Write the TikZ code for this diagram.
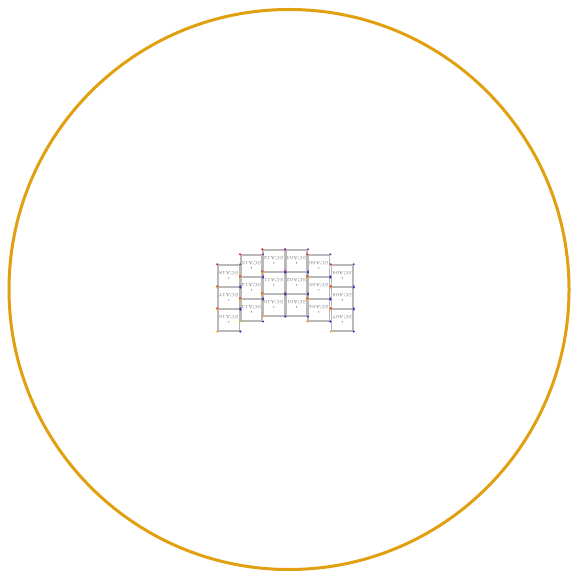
\documentclass[tikz,border=0pt]{standalone}
\usepackage{tikz}
\definecolor{ring}{RGB}{224,160,15}
\definecolor{edge}{RGB}{185,185,185}
\definecolor{dotred}{RGB}{214,39,40}
\definecolor{dotblue}{RGB}{40,50,200}
\definecolor{dotorange}{RGB}{240,165,30}
\definecolor{dotpurple}{RGB}{140,60,170}
\tikzset{
  scabox/.style={draw=edge, line width=0.85pt, minimum width=10.65pt,
    minimum height=10.75pt, inner sep=0pt, anchor=north west},
  scalabel/.style={font=\fontsize{2.4}{2.4}\selectfont, text=black!55,
    rotate=180, inner sep=0pt},
  scamark/.style={circle, fill=black!50, inner sep=0pt, minimum size=0.7pt},
}

\begin{document}
\begin{tikzpicture}[x=0.5pt, y=-0.5pt]
      \useasboundingbox (0,0) rectangle (571,576);
      % Field of view
      \coordinate (fov) at (289,289.5);
      \draw[ring, line width=1.5pt] (fov) circle[radius=280];
      % Detector columns, top to bottom
      \foreach \col/\xl/\yt/\na/\nb/\nc in {
        1/217.3/264.3/18/17/16,
        2/240.0/254.3/15/14/13,
        3/262.3/249.3/12/11/10,
        4/285.0/249.3/03/02/01,
        5/307.3/254.3/06/05/04,
        6/330.7/264.3/09/08/07%
      }{
        \foreach \n [count=\r from 0] in {\na,\nb,\nc}{
          \node[scabox] (sca\n) at (\xl, \yt+22*\r) {};
          \node[scalabel] (lab\n) at ([yshift=1.5pt]sca\n.center) {SCA\n};
          \node[scamark] (mid\n) at ([yshift=-1pt]sca\n.center) {};
        }
      }
      % Corner markers
      \foreach \n in {01,02,03,04,05,06,07,08,09,10,11,12,13,14,15,16,17,18}{
        \fill[dotred] (sca\n.north west) circle[radius=1.2];
        \fill[dotpurple] (sca\n.north east) circle[radius=1.2];
        \fill[dotorange] (sca\n.south west) circle[radius=1.2];
        \fill[dotblue] (sca\n.south east) circle[radius=1.2];
      }
    \end{tikzpicture}
\end{document}
